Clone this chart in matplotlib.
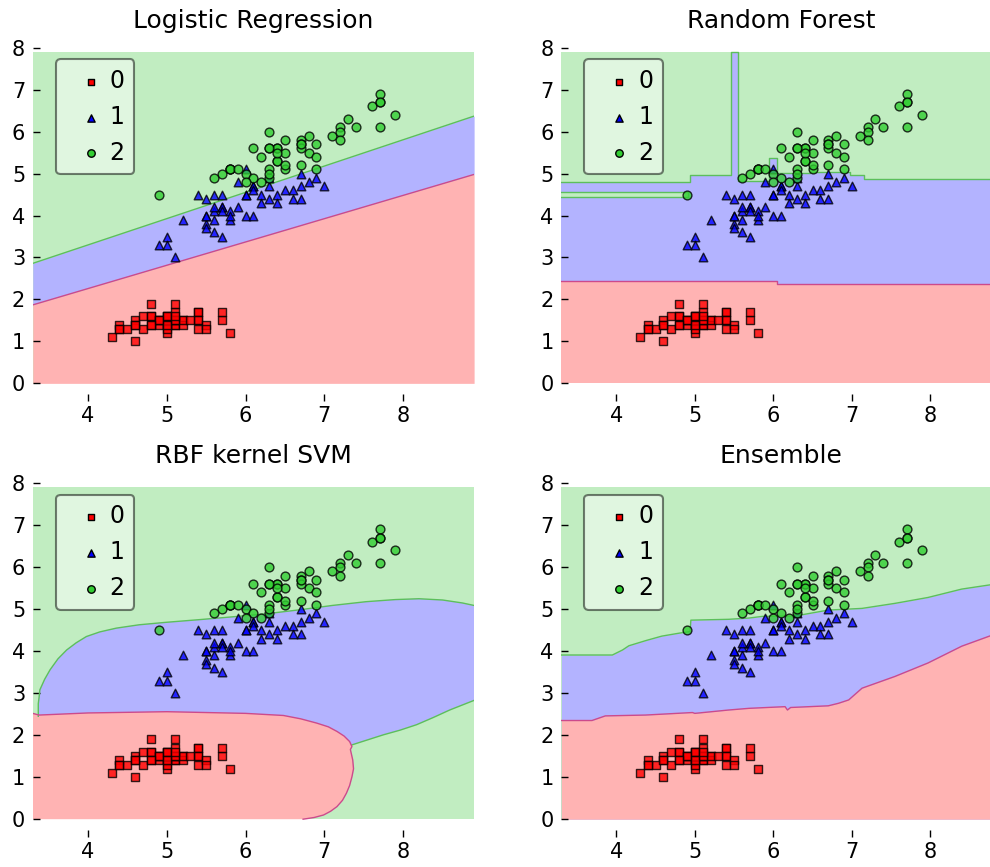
import numpy as np
import matplotlib
matplotlib.use("Agg")
import matplotlib.pyplot as plt

# iris data: sepal length (x) and petal length (y) per class
sepal_0 = [5.1, 4.9, 4.7, 4.6, 5.0, 5.4, 4.6, 5.0, 4.4, 4.9,
           5.4, 4.8, 4.8, 4.3, 5.8, 5.7, 5.4, 5.1, 5.7, 5.1,
           5.4, 5.1, 4.6, 5.1, 4.8, 5.0, 5.0, 5.2, 5.2, 4.7,
           4.8, 5.4, 5.2, 5.5, 4.9, 5.0, 5.5, 4.9, 4.4, 5.1,
           5.0, 4.5, 4.4, 5.0, 5.1, 4.8, 5.1, 4.6, 5.3, 5.0]
petal_0 = [1.4, 1.4, 1.3, 1.5, 1.4, 1.7, 1.4, 1.5, 1.4, 1.5,
           1.5, 1.6, 1.4, 1.1, 1.2, 1.5, 1.3, 1.4, 1.7, 1.5,
           1.7, 1.5, 1.0, 1.7, 1.9, 1.6, 1.6, 1.5, 1.4, 1.6,
           1.6, 1.5, 1.5, 1.4, 1.5, 1.2, 1.3, 1.5, 1.3, 1.5,
           1.3, 1.3, 1.3, 1.6, 1.9, 1.4, 1.6, 1.4, 1.5, 1.4]
sepal_1 = [7.0, 6.4, 6.9, 5.5, 6.5, 5.7, 6.3, 4.9, 6.6, 5.2,
           5.0, 5.9, 6.0, 6.1, 5.6, 6.7, 5.6, 5.8, 6.2, 5.6,
           5.9, 6.1, 6.3, 6.1, 6.4, 6.6, 6.8, 6.7, 6.0, 5.7,
           5.5, 5.5, 5.8, 6.0, 5.4, 6.0, 6.7, 6.3, 5.6, 5.5,
           5.5, 6.1, 5.8, 5.0, 5.6, 5.7, 5.7, 6.2, 5.1, 5.7]
petal_1 = [4.7, 4.5, 4.9, 4.0, 4.6, 4.5, 4.7, 3.3, 4.6, 3.9,
           3.5, 4.2, 4.0, 4.7, 3.6, 4.4, 4.5, 4.1, 4.5, 3.9,
           4.8, 4.0, 4.9, 4.7, 4.3, 4.4, 4.8, 5.0, 4.5, 3.5,
           3.8, 3.7, 3.9, 5.1, 4.5, 4.5, 4.7, 4.4, 4.1, 4.0,
           4.4, 4.6, 4.0, 3.3, 4.2, 4.2, 4.2, 4.3, 3.0, 4.1]
sepal_2 = [6.3, 5.8, 7.1, 6.3, 6.5, 7.6, 4.9, 7.3, 6.7, 7.2,
           6.5, 6.4, 6.8, 5.7, 5.8, 6.4, 6.5, 7.7, 7.7, 6.0,
           6.9, 5.6, 7.7, 6.3, 6.7, 7.2, 6.2, 6.1, 6.4, 7.2,
           7.4, 7.9, 6.4, 6.3, 6.1, 7.7, 6.3, 6.4, 6.0, 6.9,
           6.7, 6.9, 5.8, 6.8, 6.7, 6.7, 6.3, 6.5, 6.2, 5.9]
petal_2 = [6.0, 5.1, 5.9, 5.6, 5.8, 6.6, 4.5, 6.3, 5.8, 6.1,
           5.1, 5.3, 5.5, 5.0, 5.1, 5.3, 5.5, 6.7, 6.9, 5.0,
           5.7, 4.9, 6.7, 4.9, 5.7, 6.0, 4.8, 4.9, 5.6, 5.8,
           6.1, 6.4, 5.6, 5.1, 5.6, 6.1, 5.6, 5.5, 4.8, 5.4,
           5.6, 5.1, 5.1, 5.9, 5.7, 5.2, 5.0, 5.2, 5.4, 5.1]

titles = ["Logistic Regression", "Random Forest", "RBF kernel SVM", "Ensemble"]
class_labels = ["0", "1", "2"]

# decision region extent
x_min, x_max = 3.3, 8.9
y_min, y_max = 0.0, 7.9

# logistic regression boundaries (straight lines)
lr_x = [3.3, 8.9]
lr_lower = [1.87, 4.98]
lr_upper = [2.86, 6.37]

# random forest boundaries (steps)
rf_x = [3.3, 4.94, 5.455, 5.545, 5.95, 6.05, 6.47, 6.98, 7.15, 8.9]
rf_lower = [2.45, 2.45, 2.45, 2.45, 2.45, 2.37, 2.37, 2.37, 2.37, 2.37]
rf_upper = [4.79, 4.96, 7.9, 4.83, 5.37, 5.01, 5.04, 4.97, 4.86, 4.86]
rf_strip_x = [3.3, 4.91]
rf_strip_lo = 4.45
rf_strip_hi = 4.57

# rbf svm boundaries (curves)
svm_red_x = [3.3, 3.3, 3.38, 4.0, 5.0, 6.0, 6.48, 6.7, 6.9, 7.05, 7.16, 7.25, 7.32,
             7.35, 7.33, 7.36, 7.37, 7.35, 7.32, 7.28, 7.23, 7.16, 7.08, 6.99,
             6.87, 6.73]
svm_red_y = [0.0, 2.52, 2.48, 2.53, 2.56, 2.52, 2.47, 2.39, 2.29, 2.20, 2.09, 1.98,
             1.85, 1.73, 1.66, 1.41, 1.2, 1.01, 0.8, 0.62, 0.45, 0.30, 0.19, 0.10,
             0.04, 0.0]
svm_top_x = [3.37, 3.37, 3.38, 3.39, 3.45, 3.52, 3.62, 3.73, 3.85, 3.98, 4.15, 4.36,
             4.65, 5.0, 5.4, 5.84, 6.3, 6.7, 7.1, 7.53, 7.9, 8.2, 8.5, 8.75, 8.9]
svm_top_y = [2.45, 2.75, 2.9, 3.08, 3.33, 3.56, 3.82, 4.03, 4.2, 4.35, 4.46, 4.55,
             4.63, 4.69, 4.75, 4.82, 4.9, 4.99, 5.09, 5.18, 5.23, 5.25, 5.22, 5.15,
             5.09]
svm_bot_x = [8.9, 8.59, 8.38, 8.17, 7.96, 7.75, 7.55, 7.35]
svm_bot_y = [2.83, 2.60, 2.42, 2.25, 2.12, 2.01, 1.89, 1.77]

# ensemble boundaries
ens_up_x = [3.3, 3.95, 4.08, 4.16, 4.37, 4.58, 4.80, 4.94, 4.95, 5.43, 5.69, 5.86,
            6.28, 6.70, 7.13, 7.55, 7.97, 8.40, 8.9]
ens_up_y = [3.91, 3.91, 4.03, 4.13, 4.25, 4.36, 4.43, 4.47, 4.74, 4.76, 4.79, 4.83,
            4.84, 4.98, 5.02, 5.14, 5.28, 5.48, 5.62]
ens_lo_x = [3.3, 3.69, 3.86, 4.37, 4.97, 5.0, 5.43, 5.69, 6.15, 6.18, 6.22, 6.70,
            6.83, 6.96, 7.13, 7.55, 7.97, 8.40, 8.9]
ens_lo_y = [2.35, 2.35, 2.46, 2.48, 2.54, 2.52, 2.60, 2.64, 2.68, 2.60, 2.66, 2.70,
            2.76, 2.84, 3.12, 3.40, 3.72, 4.12, 4.46]

c_red, c_blue, c_green = "#ffb3b3", "#b3b3ff", "#c1edc1"
line_green, line_red = "#5cbf5c", "#cc4a8c"

fig = plt.figure(figsize=(9.9, 8.67), dpi=100)
positions = [[0.0331, 0.5375, 0.4458, 0.4075],
             [0.5670, 0.5375, 0.4441, 0.4075],
             [0.0331, 0.0348, 0.4458, 0.4078],
             [0.5670, 0.0348, 0.4441, 0.4078]]
axes = [fig.add_axes(p) for p in positions]

for i, ax in enumerate(axes):
    # green everywhere first
    ax.fill_between([x_min, x_max], y_min, y_max, color=c_green, lw=0, zorder=0)
    if i == 0:
        ax.fill_between(lr_x, lr_lower, lr_upper, color=c_blue, lw=0, zorder=1)
        ax.fill_between(lr_x, y_min, lr_lower, color=c_red, lw=0, zorder=1)
        ax.plot(lr_x, lr_upper, color=line_green, lw=1, zorder=2)
        ax.plot(lr_x, lr_lower, color=line_red, lw=1, zorder=2)
    elif i == 1:
        ax.fill_between(rf_x, rf_lower, rf_upper, step="post", color=c_blue, lw=0, zorder=1)
        ax.fill_between(rf_x, y_min, rf_lower, step="post", color=c_red, lw=0, zorder=1)
        ax.fill_between(rf_strip_x, rf_strip_lo, rf_strip_hi, color=c_green, lw=0, zorder=1)
        ax.plot(rf_x, rf_upper, drawstyle="steps-post", color=line_green, lw=1, zorder=2)
        ax.plot(rf_x, rf_lower, drawstyle="steps-post", color=line_red, lw=1, zorder=2)
        ax.plot(rf_strip_x + rf_strip_x[::-1],
                [rf_strip_hi, rf_strip_hi, rf_strip_lo, rf_strip_lo],
                color=line_green, lw=1, zorder=2)
    elif i == 2:
        blue_x = svm_top_x + svm_bot_x + [7.0, 3.37]
        blue_y = svm_top_y + svm_bot_y + [2.0, 2.0]
        ax.fill(blue_x, blue_y, color=c_blue, lw=0, zorder=1)
        ax.fill(svm_red_x, svm_red_y, color=c_red, lw=0, zorder=1)
        ax.plot(svm_top_x, svm_top_y, color=line_green, lw=1, zorder=2)
        ax.plot(svm_bot_x, svm_bot_y, color=line_green, lw=1, zorder=2)
        ax.plot(svm_red_x[1:], svm_red_y[1:], color=line_red, lw=1, zorder=2)
    else:
        ax.fill_between(ens_up_x, y_min, ens_up_y, color=c_blue, lw=0, zorder=1)
        ax.fill_between(ens_lo_x, y_min, ens_lo_y, color=c_red, lw=0, zorder=1)
        ax.plot(ens_up_x, ens_up_y, color=line_green, lw=1, zorder=2)
        ax.plot(ens_lo_x, ens_lo_y, color=line_red, lw=1, zorder=2)

    ax.scatter(sepal_0, petal_0, marker="s", s=34, c="red", edgecolors="black",
               linewidths=1, alpha=0.8, label=class_labels[0], zorder=3)
    ax.scatter(sepal_1, petal_1, marker="^", s=38, c="blue", edgecolors="black",
               linewidths=1, alpha=0.8, label=class_labels[1], zorder=3)
    ax.scatter(sepal_2, petal_2, marker="o", s=40, c="limegreen", edgecolors="black",
               linewidths=1, alpha=0.8, label=class_labels[2], zorder=3)

    ax.set_xlim(x_min, x_max)
    ax.set_ylim(-0.42, 8)
    ax.set_xticks([4, 5, 6, 7, 8])
    ax.set_yticks(range(0, 9))
    for sp in ax.spines.values():
        sp.set_visible(False)
    ax.tick_params(axis="both", direction="in", length=5, width=1, labelsize=15,
                   top=False, right=False)
    ax.tick_params(axis="x", pad=3.5)
    ax.tick_params(axis="y", pad=5.5)
    ax.set_title(titles[i], fontsize=18, pad=14.5)

    leg = ax.legend(loc="upper left", bbox_to_anchor=(0.0526, 0.968), borderaxespad=0,
                    fontsize=17, scatterpoints=1, markerscale=0.85, framealpha=0.5,
                    edgecolor="black", fancybox=True, borderpad=0.42,
                    handlelength=2.1, handletextpad=-0.25, labelspacing=0.5)
    leg.get_frame().set_linewidth(1.5)
    for h in leg.legend_handles:
        h.set_alpha(1)

plt.savefig("out.png", dpi=100)
